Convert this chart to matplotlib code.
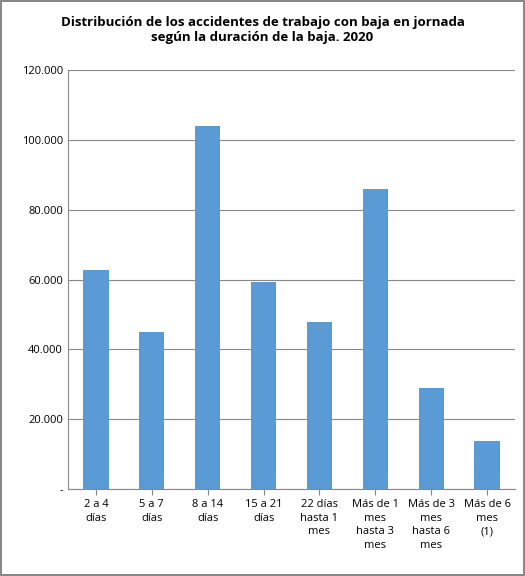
import matplotlib
matplotlib.use("Agg")
import matplotlib.pyplot as plt
from matplotlib.ticker import FuncFormatter

categories = ["2 a 4\ndías", "5 a 7\ndías", "8 a 14\ndías", "15 a 21\ndías",
              "22 días\nhasta 1\nmes", "Más de 1\nmes\nhasta 3\nmes",
              "Más de 3\nmes\nhasta 6\nmes", "Más de 6\nmes\n(1)"]
values = [62700, 45000, 103900, 59300, 47800, 85900, 28900, 13700]
title = "Distribución de los accidentes de trabajo con baja en jornada\nsegún la duración de la baja. 2020"

plt.rcParams['font.family'] = ['Open Sans', 'DejaVu Sans']
fig = plt.figure(figsize=(5.25, 5.76), dpi=100)
fig.patch.set_edgecolor('#888888'); fig.patch.set_linewidth(1.5)
ax = fig.add_axes([68/525, 1-489/576, 447/525, 419/576])
x = range(len(values))
ax.bar(x, values, width=0.45, color='#5B9BD5')
ax.set_xlim(-0.5, len(values)-0.5)
ax.set_ylim(0, 120000)
ax.set_yticks(range(0, 120001, 20000))
ax.yaxis.set_major_formatter(FuncFormatter(lambda v, p: '-' if v == 0 else f"{int(v):,}".replace(',', '.')))
ax.set_xticks(list(x))
ax.set_xticklabels(categories, fontsize=8, va='top', linespacing=1.3)
ax.tick_params(axis='y', labelsize=8, length=0)
ax.tick_params(axis='x', length=4, color='#888888')
ax.grid(axis='y', color='#888888', linewidth=0.8)
ax.set_axisbelow(True)
for s in ['top', 'right']:
    ax.spines[s].set_visible(False)
for s in ['left', 'bottom']:
    ax.spines[s].set_color('#888888')
fig.text(0.5, 1-30/576, title, ha='center', va='center', fontsize=9.5, fontweight='bold')
fig.savefig("out.png", dpi=100, edgecolor=fig.get_edgecolor())
